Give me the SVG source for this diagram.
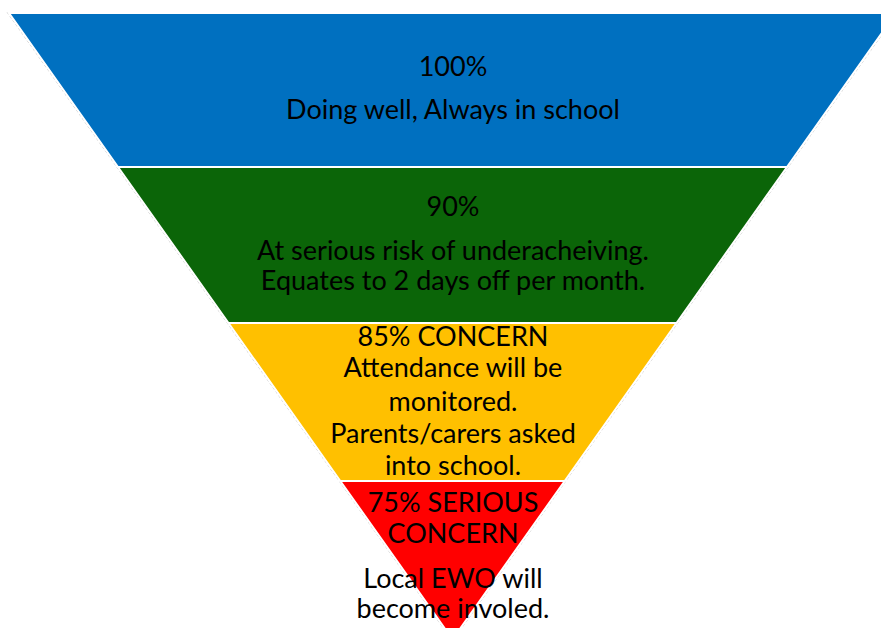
<svg xmlns="http://www.w3.org/2000/svg" width="881" height="628" viewBox="0 0 881 628">
<style>
.band{stroke:#ffffff;stroke-width:2}
.edge{fill:none;stroke:#c8c8c8;stroke-width:1;stroke-dasharray:3 2}
text{font-family:Lato,"Liberation Sans",sans-serif;font-size:27px;fill:#000;text-anchor:middle}
</style>
<rect width="881" height="628" fill="#ffffff"/>
<g id="edges">
<line class="edge" x1="7" y1="12" x2="452.5" y2="641"/>
<line class="edge" x1="898" y1="12" x2="452.5" y2="641"/>
</g>
<g id="band-100">
<polygon class="band" points="9,13 896,13 787,167 118,167" fill="#0070C0"/>
<text x="453" y="76">100%</text>
<text x="453" y="119">Doing well, Always in school</text>
</g>
<g id="band-90">
<polygon class="band" points="118,167 787,167 676.5,323 228.5,323" fill="#0B6508"/>
<text x="453" y="216">90%</text>
<text x="453" y="260">At serious risk of underacheiving.</text>
<text x="453" y="290">Equates to 2 days off per month.</text>
</g>
<g id="band-85">
<polygon class="band" points="228.5,323 676.5,323 564.7,481 340.3,481" fill="#FFC000"/>
<text x="453" y="346">85% CONCERN</text>
<text x="453" y="377">Attendance will be</text>
<text x="453" y="411">monitored.</text>
<text x="453" y="443">Parents/carers asked</text>
<text x="453" y="475">into school.</text>
</g>
<g id="band-75">
<polygon class="band" points="340.3,481 564.7,481 452.5,639.4" fill="#FF0000"/>
<text x="453" y="512">75% SERIOUS</text>
<text x="453" y="543">CONCERN</text>
<text x="453" y="588">Local EWO will</text>
<text x="453" y="618">become involed.</text>
</g>
</svg>
